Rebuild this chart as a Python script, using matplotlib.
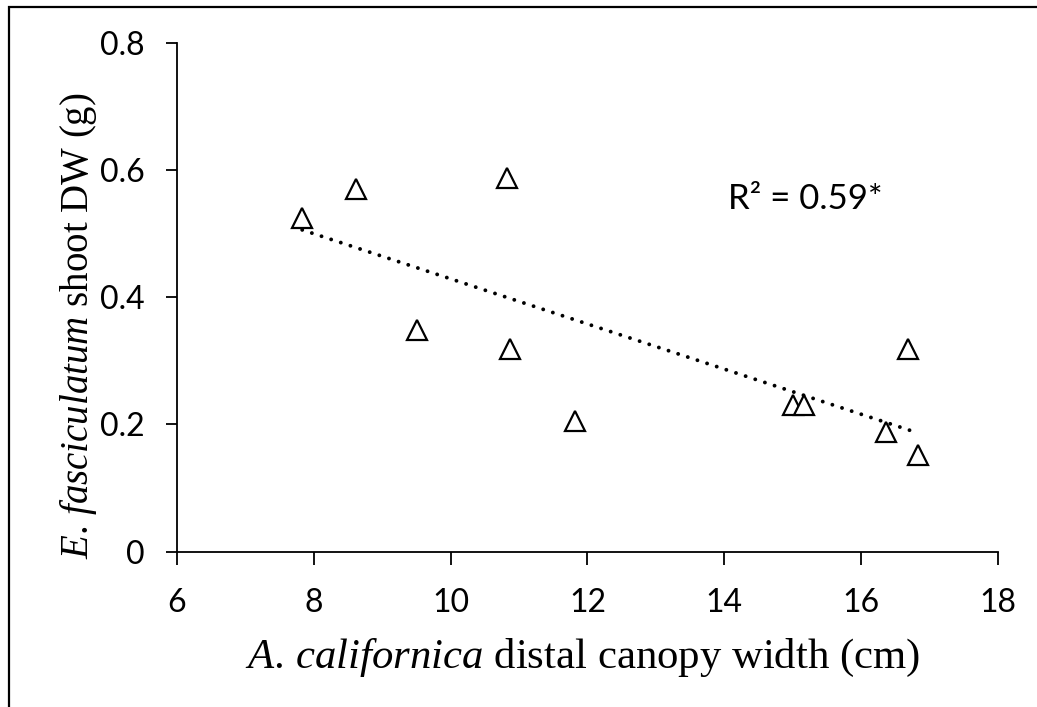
import numpy as np
import matplotlib
matplotlib.use("Agg")
import matplotlib.pyplot as plt
from matplotlib.patches import Rectangle

# Data
canopy_width = [7.83, 8.61, 10.83, 9.51, 10.87, 11.81, 15.00, 15.16, 16.68, 16.37, 16.83]
shoot_dw = [0.524, 0.570, 0.587, 0.348, 0.318, 0.205, 0.230, 0.230, 0.318, 0.188, 0.151]
x_ticks = [6, 8, 10, 12, 14, 16, 18]
y_ticks = [0, 0.2, 0.4, 0.6, 0.8]
y_tick_labels = ["0", "0.2", "0.4", "0.6", "0.8"]
r2_text = "R\u00b2 = 0.59*"

plt.rcParams['mathtext.fontset'] = 'custom'
plt.rcParams['mathtext.rm'] = 'Liberation Serif'
plt.rcParams['mathtext.it'] = 'Liberation Serif:italic'

W, H = 1037, 707
fig = plt.figure(figsize=(W / 100, H / 100), dpi=100)
ax_l, ax_r, ax_b, ax_t = 177, 998, 551.5, 42.7
ax = fig.add_axes([ax_l / W, 1 - ax_b / H, (ax_r - ax_l) / W, (ax_b - ax_t) / H])

x = np.array(canopy_width)
y = np.array(shoot_dw)

# trendline (linear fit)
slope, intercept = np.polyfit(x, y, 1)
xl = np.array([x.min(), x.max()])
ax.plot(xl, slope * xl + intercept, color='black', lw=2.8,
        linestyle=(0, (0.01, 2.6)), dash_capstyle='round', zorder=2)

ax.plot(x, y, linestyle='none', marker='^', markersize=14.5,
        markerfacecolor='white', markeredgecolor='black', markeredgewidth=1.6, zorder=3)

ax.set_xlim(6, 18)
ax.set_ylim(0, 0.8)
ax.set_xticks(x_ticks)
ax.set_yticks(y_ticks)
ax.set_yticklabels(y_tick_labels)

for s in ['top', 'right']:
    ax.spines[s].set_visible(False)
for s in ['left', 'bottom']:
    ax.spines[s].set_linewidth(1.3)
    ax.spines[s].set_color('black')

ax.tick_params(axis='x', direction='out', length=9, width=1.3, pad=17, labelsize=23)
ax.tick_params(axis='y', direction='out', length=8, width=1.3, pad=15, labelsize=23)
for lab in ax.get_xticklabels() + ax.get_yticklabels():
    lab.set_fontfamily('Lato')

ax.set_xlabel(r'$\mathit{A.\,californica}$ distal canopy width (cm)',
              fontfamily='Liberation Serif', fontsize=30.8, va='baseline')
ax.xaxis.set_label_coords(0.4945, (ax_b - 668.3) / (ax_b - ax_t))
ax.set_ylabel(r'$\mathit{E.\,fasciculatum}$ shoot DW (g)',
              fontfamily='Liberation Serif', fontsize=28, va='baseline')
ax.yaxis.set_label_coords((88 - ax_l) / (ax_r - ax_l), 0.443)

ax.text(14.05, 0.538, r2_text, fontfamily='Lato', fontsize=25, ha='left', va='baseline')

fig.patches.append(Rectangle((9 / W, -0.1), 1.2, 1.1 - 7 / H, transform=fig.transFigure,
                             fill=False, edgecolor='black', lw=1.6))

fig.savefig('out.png', dpi=100)
